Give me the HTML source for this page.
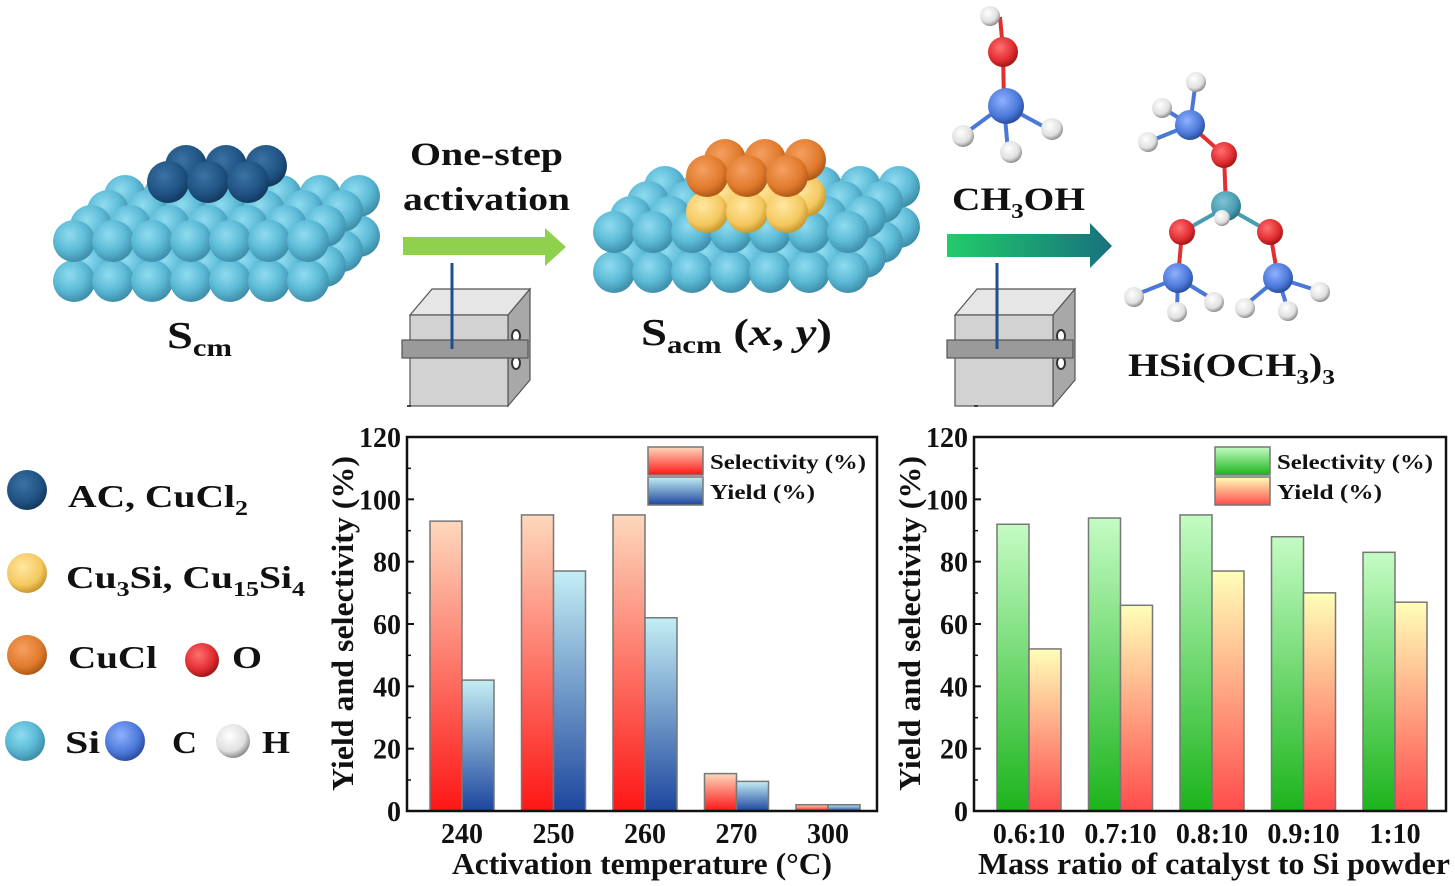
<!DOCTYPE html>
<html><head><meta charset="utf-8">
<style>
html,body{margin:0;padding:0;background:#fff;}
svg{display:block;font-family:"Liberation Serif",serif;font-weight:bold;}
</style></head>
<body>
<svg id="s" width="1455" height="886" viewBox="0 0 1455 886" xmlns="http://www.w3.org/2000/svg">
<defs>
<radialGradient id="gcy" cx="0.4" cy="0.35" r="0.65"><stop offset="0" stop-color="#8fdcf0"/><stop offset="0.6" stop-color="#5cbad6"/><stop offset="1" stop-color="#3f8fab"/></radialGradient>
<radialGradient id="gdk" cx="0.4" cy="0.35" r="0.65"><stop offset="0" stop-color="#3a73a3"/><stop offset="0.7" stop-color="#1f5283"/><stop offset="1" stop-color="#143a5e"/></radialGradient>
<radialGradient id="gor" cx="0.4" cy="0.35" r="0.65"><stop offset="0" stop-color="#f5a060"/><stop offset="0.7" stop-color="#e07a2c"/><stop offset="1" stop-color="#b05a18"/></radialGradient>
<radialGradient id="gye" cx="0.4" cy="0.35" r="0.65"><stop offset="0" stop-color="#ffe7a0"/><stop offset="0.7" stop-color="#f5c860"/><stop offset="1" stop-color="#c89a30"/></radialGradient>
<radialGradient id="gre" cx="0.4" cy="0.35" r="0.65"><stop offset="0" stop-color="#ff7070"/><stop offset="0.7" stop-color="#e02c30"/><stop offset="1" stop-color="#a01818"/></radialGradient>
<radialGradient id="gbl" cx="0.4" cy="0.35" r="0.65"><stop offset="0" stop-color="#8fb0ff"/><stop offset="0.7" stop-color="#4a78d8"/><stop offset="1" stop-color="#2c4ea0"/></radialGradient>
<radialGradient id="gwh" cx="0.4" cy="0.35" r="0.65"><stop offset="0" stop-color="#ffffff"/><stop offset="0.7" stop-color="#e0e0e0"/><stop offset="1" stop-color="#909090"/></radialGradient>
<radialGradient id="gsi" cx="0.4" cy="0.35" r="0.65"><stop offset="0" stop-color="#7ec4d4"/><stop offset="0.7" stop-color="#4a9cb2"/><stop offset="1" stop-color="#2e7084"/></radialGradient>
<linearGradient id="s1" x1="0" y1="0" x2="0" y2="1"><stop offset="0" stop-color="#fdd8bc"/><stop offset="1" stop-color="#fd1616"/></linearGradient>
<linearGradient id="y1" x1="0" y1="0" x2="0" y2="1"><stop offset="0" stop-color="#c4eef4"/><stop offset="1" stop-color="#1d469e"/></linearGradient>
<linearGradient id="s2" x1="0" y1="0" x2="0" y2="1"><stop offset="0" stop-color="#c4fcc4"/><stop offset="1" stop-color="#1cb41c"/></linearGradient>
<linearGradient id="y2" x1="0" y1="0" x2="0" y2="1"><stop offset="0" stop-color="#ffffb8"/><stop offset="1" stop-color="#ff4c4c"/></linearGradient>
<linearGradient id="a2" x1="0" y1="0" x2="1" y2="0"><stop offset="0" stop-color="#22cc6a"/><stop offset="1" stop-color="#17707e"/></linearGradient>
</defs>
<g id="lat"></g>

<polygon points="403,237 545,237 545,228 566,247 545,266 545,255 403,255" fill="#8fd04c"/>
<polygon points="947,234 1090,234 1090,223 1112,246 1090,268 1090,257 947,257" fill="url(#a2)"/>

<g id="box1">
<polygon points="410,315 432,289 530,289 508,315" fill="#e6e6e6" stroke="#555" stroke-width="1.2"/>
<polygon points="508,315 530,289 530,380 508,406" fill="#a8a8a8" stroke="#555" stroke-width="1.2"/>
<rect x="410" y="315" width="98" height="91" fill="#d2d2d2" stroke="#555" stroke-width="1.2"/>
<ellipse cx="516" cy="336" rx="4" ry="6" fill="#fff" stroke="#333" stroke-width="2"/>
<ellipse cx="516" cy="363" rx="4" ry="6" fill="#fff" stroke="#333" stroke-width="2"/>
<rect x="402" y="340" width="126" height="18" fill="#9a9a9a" stroke="#555" stroke-width="1.2"/>
<line x1="452" y1="263" x2="452" y2="349" stroke="#1f4f8f" stroke-width="3"/>
</g>
<use href="#box1" x="545" y="0"/>

<g stroke-width="4">
<line x1="1000" y1="17" x2="1003" y2="50" stroke="#e03030"/>
<line x1="1003" y1="50" x2="1004" y2="105" stroke="#e03030"/>
<line x1="1004" y1="105" x2="963" y2="135" stroke="#4a78d8"/>
<line x1="1004" y1="105" x2="1008" y2="152" stroke="#4a78d8"/>
<line x1="1004" y1="105" x2="1050" y2="130" stroke="#4a78d8"/>
</g>
<circle cx="990" cy="16" r="10" fill="url(#gwh)"/>
<circle cx="1003" cy="52" r="15" fill="url(#gre)"/>
<circle cx="1006" cy="106" r="18" fill="url(#gbl)"/>
<circle cx="963" cy="136" r="11" fill="url(#gwh)"/>
<circle cx="1011" cy="152" r="11" fill="url(#gwh)"/>
<circle cx="1052" cy="129" r="11" fill="url(#gwh)"/>

<g stroke-width="4">
<line x1="1224" y1="155" x2="1190" y2="125" stroke="#e03030"/>
<line x1="1224" y1="155" x2="1226" y2="207" stroke="#e03030"/>
<line x1="1226" y1="207" x2="1182" y2="232" stroke="#4a9cb2"/>
<line x1="1226" y1="207" x2="1270" y2="232" stroke="#4a9cb2"/>
<line x1="1182" y1="232" x2="1178" y2="278" stroke="#e03030"/>
<line x1="1270" y1="232" x2="1278" y2="278" stroke="#e03030"/>
<line x1="1190" y1="125" x2="1196" y2="80" stroke="#4a78d8"/>
<line x1="1190" y1="125" x2="1163" y2="108" stroke="#4a78d8"/>
<line x1="1190" y1="125" x2="1148" y2="142" stroke="#4a78d8"/>
<line x1="1178" y1="278" x2="1130" y2="297" stroke="#4a78d8"/>
<line x1="1178" y1="278" x2="1177" y2="310" stroke="#4a78d8"/>
<line x1="1178" y1="278" x2="1214" y2="300" stroke="#4a78d8"/>
<line x1="1278" y1="278" x2="1243" y2="307" stroke="#4a78d8"/>
<line x1="1278" y1="278" x2="1288" y2="310" stroke="#4a78d8"/>
<line x1="1278" y1="278" x2="1322" y2="292" stroke="#4a78d8"/>
</g>
<circle cx="1196" cy="82" r="10" fill="url(#gwh)"/>
<circle cx="1162" cy="108" r="10" fill="url(#gwh)"/>
<circle cx="1148" cy="142" r="10" fill="url(#gwh)"/>
<circle cx="1190" cy="125" r="15" fill="url(#gbl)"/>
<circle cx="1224" cy="155" r="13" fill="url(#gre)"/>
<circle cx="1226" cy="206" r="15" fill="url(#gsi)"/>
<circle cx="1222" cy="218" r="8" fill="url(#gwh)"/>
<circle cx="1182" cy="232" r="13" fill="url(#gre)"/>
<circle cx="1270" cy="232" r="13" fill="url(#gre)"/>
<circle cx="1178" cy="278" r="15" fill="url(#gbl)"/>
<circle cx="1278" cy="278" r="15" fill="url(#gbl)"/>
<circle cx="1134" cy="297" r="10" fill="url(#gwh)"/>
<circle cx="1177" cy="312" r="10" fill="url(#gwh)"/>
<circle cx="1214" cy="302" r="10" fill="url(#gwh)"/>
<circle cx="1245" cy="308" r="10" fill="url(#gwh)"/>
<circle cx="1288" cy="311" r="10" fill="url(#gwh)"/>
<circle cx="1320" cy="292" r="10" fill="url(#gwh)"/>

<g font-size="33" fill="#111" lengthAdjust="spacingAndGlyphs">
<text x="410" y="165" textLength="153" lengthAdjust="spacingAndGlyphs">One-step</text>
<text x="403" y="210" textLength="167" lengthAdjust="spacingAndGlyphs">activation</text>
<text x="952" y="210" textLength="133" lengthAdjust="spacingAndGlyphs">CH<tspan font-size="21" dy="8">3</tspan><tspan dy="-8">OH</tspan></text>
<text x="1128" y="376" textLength="207" lengthAdjust="spacingAndGlyphs">HSi(OCH<tspan font-size="21" dy="8">3</tspan><tspan dy="-8">)</tspan><tspan font-size="21" dy="8">3</tspan></text>
<text x="167" y="348" font-size="38" textLength="65" lengthAdjust="spacingAndGlyphs">S<tspan font-size="25" dy="8">cm</tspan></text>
<text x="641" y="345" font-size="38" textLength="191" lengthAdjust="spacingAndGlyphs">S<tspan font-size="25" dy="8">acm</tspan><tspan dy="-8"> (</tspan><tspan font-style="italic">x</tspan>, <tspan font-style="italic">y</tspan>)</text>
</g>

<circle cx="27" cy="490" r="20" fill="url(#gdk)"/>
<circle cx="27" cy="573" r="20" fill="url(#gye)"/>
<circle cx="27" cy="655" r="20" fill="url(#gor)"/>
<circle cx="202" cy="660" r="17" fill="url(#gre)"/>
<circle cx="25" cy="741" r="20" fill="url(#gcy)"/>
<circle cx="125" cy="741" r="20" fill="url(#gbl)"/>
<circle cx="233" cy="741" r="17" fill="url(#gwh)"/>
<g font-size="32" fill="#111">
<text x="68" y="507" textLength="180" lengthAdjust="spacingAndGlyphs">AC, CuCl<tspan font-size="21" dy="8">2</tspan></text>
<text x="66" y="588" textLength="239" lengthAdjust="spacingAndGlyphs">Cu<tspan font-size="21" dy="8">3</tspan><tspan dy="-8">Si, Cu</tspan><tspan font-size="21" dy="8">15</tspan><tspan dy="-8">Si</tspan><tspan font-size="21" dy="8">4</tspan></text>
<text x="68" y="668" textLength="89" lengthAdjust="spacingAndGlyphs">CuCl</text>
<text x="232" y="668" textLength="30" lengthAdjust="spacingAndGlyphs">O</text>
<text x="65" y="753" textLength="35" lengthAdjust="spacingAndGlyphs">Si</text>
<text x="172" y="753" textLength="25" lengthAdjust="spacingAndGlyphs">C</text>
<text x="262" y="753" textLength="28" lengthAdjust="spacingAndGlyphs">H</text>
</g>

<g id="charts"></g>
</svg>
<script>
var NS="http://www.w3.org/2000/svg";
function el(p,t,a,txt){var e=document.createElementNS(NS,t);for(var k in a)e.setAttribute(k,a[k]);if(txt!==undefined)e.textContent=txt;p.appendChild(e);return e;}
var lat=document.getElementById('lat');
function lattice(x0,y0,step,r,dx,dy){
  for(var layer=0;layer<2;layer++){
    var ly=y0-layer*40;
    for(var row=3;row>=0;row--){
      for(var i=0;i<7;i++){
        el(lat,'circle',{cx:x0+i*step+row*dx,cy:ly+row*dy,r:r,fill:'url(#gcy)'});
      }
    }
  }
}
lattice(74,281,39,21,17,-15);
lattice(614,272,39,21,17,-15);
function cluster(x,y,fill,rows){
  for(var row=rows-1;row>=0;row--)for(var i=0;i<3;i++)el(lat,'circle',{cx:x+i*40+row*18,cy:y-row*16,r:21,fill:fill});
}
cluster(168,182,'url(#gdk)',2);
cluster(707,212,'url(#gye)',2);
cluster(707,176,'url(#gor)',2);

var ch=document.getElementById('charts');
function chart(X0,X1,labels,sel,yld,gs,gy,xt,xtL){
  var Y0=811,Y1=437,sc=(Y0-Y1)/120;
  for(var k=0;k<5;k++){
    var cx=X0+23+k*91.5;
    el(ch,'rect',{x:cx,y:Y0-sel[k]*sc,width:32,height:sel[k]*sc,fill:'url(#'+gs+')',stroke:'#777','stroke-width':1.5});
    el(ch,'rect',{x:cx+32,y:Y0-yld[k]*sc,width:32,height:yld[k]*sc,fill:'url(#'+gy+')',stroke:'#777','stroke-width':1.5});
    el(ch,'text',{x:cx+32,y:843,'font-size':28,'text-anchor':'middle',fill:'#111'},labels[k]);
  }
  el(ch,'rect',{x:X0,y:Y1,width:X1-X0,height:Y0-Y1,fill:'none',stroke:'#111','stroke-width':2.5});
  for(var v=0;v<=120;v+=20){
    var y=Y0-v*sc;
    el(ch,'line',{x1:X0,y1:y,x2:X0+7,y2:y,stroke:'#111','stroke-width':2});
    el(ch,'line',{x1:X0,y1:y-31,x2:X0+4,y2:y-31,stroke:'#111','stroke-width':1.5});
    el(ch,'text',{x:X0-6,y:y+10,'font-size':28,'text-anchor':'end',fill:'#111'},v);
  }
  var lx=X0+241;
  el(ch,'rect',{x:lx,y:447,width:55,height:28,fill:'url(#'+gs+')',stroke:'#777','stroke-width':1.5});
  el(ch,'rect',{x:lx,y:477,width:55,height:28,fill:'url(#'+gy+')',stroke:'#777','stroke-width':1.5});
  el(ch,'text',{x:lx+62,y:469,'font-size':21,fill:'#111',textLength:156,lengthAdjust:'spacingAndGlyphs'},'Selectivity (%)');
  el(ch,'text',{x:lx+62,y:499,'font-size':21,fill:'#111',textLength:105,lengthAdjust:'spacingAndGlyphs'},'Yield (%)');
  el(ch,'text',{x:-167,y:0,'font-size':31,fill:'#111',textLength:335,lengthAdjust:'spacingAndGlyphs',transform:'translate('+(X0-54)+',624) rotate(-90)'},'Yield and selectivity (%)');
  el(ch,'text',{x:xtL[0],y:874,'font-size':31,fill:'#111',textLength:xtL[1],lengthAdjust:'spacingAndGlyphs'},xt);
}
chart(407,877,['240','250','260','270','300'],[93,95,95,12,2],[42,77,62,9.5,2],'s1','y1','Activation temperature (°C)',[452,380]);
chart(974,1446,['0.6:10','0.7:10','0.8:10','0.9:10','1:10'],[92,94,95,88,83],[52,66,77,70,67],'s2','y2','Mass ratio  of catalyst to Si powder',[978,472]);
</script>
</body></html>
